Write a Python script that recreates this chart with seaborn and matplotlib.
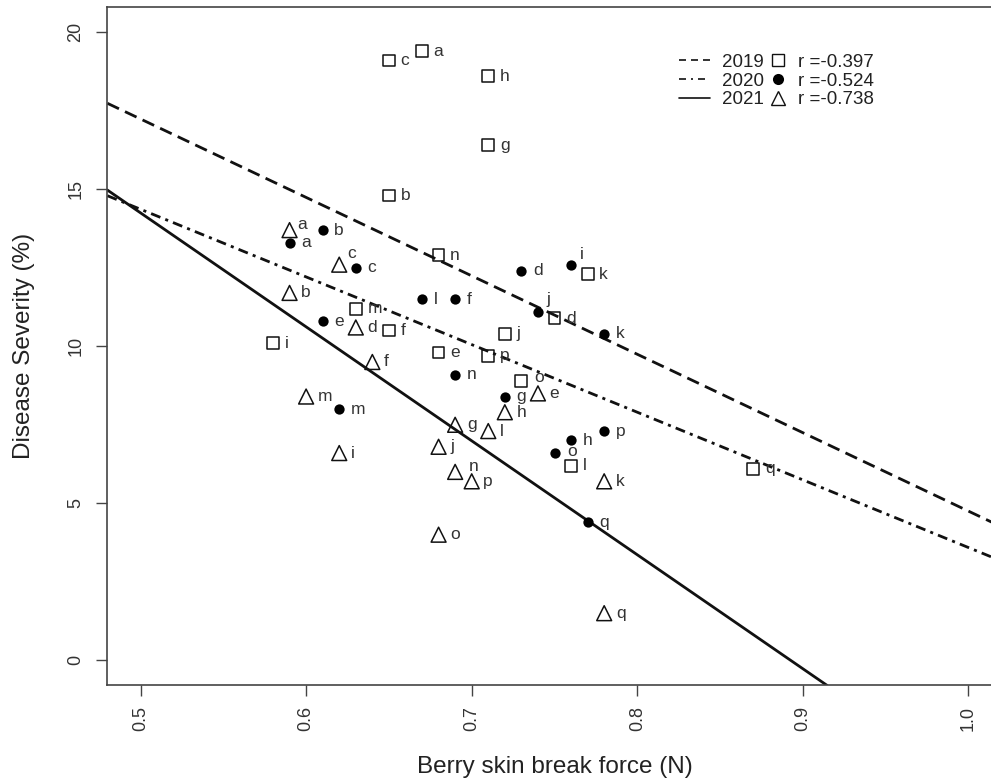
import pandas as pd
import seaborn as sns
import matplotlib.pyplot as plt
from matplotlib.lines import Line2D

sns.set_style("ticks")
plt.rcParams['font.family'] = ['Liberation Sans', 'DejaVu Sans']

# values
years = ['2019', '2020', '2021']
point_labels = list('abcdefghijklmnopq')

force_2019 = [0.67, 0.65, 0.65, 0.75, 0.68, 0.65, 0.71, 0.71, 0.58,
              0.72, 0.77, 0.76, 0.63, 0.68, 0.73, 0.71, 0.87]
severity_2019 = [19.4, 14.8, 19.1, 10.9, 9.8, 10.5, 16.4, 18.6, 10.1,
                 10.4, 12.3, 6.2, 11.2, 12.9, 8.9, 9.7, 6.1]

force_2020 = [0.59, 0.61, 0.63, 0.73, 0.61, 0.69, 0.72, 0.76, 0.76,
              0.74, 0.78, 0.67, 0.62, 0.69, 0.75, 0.78, 0.77]
severity_2020 = [13.3, 13.7, 12.5, 12.4, 10.8, 11.5, 8.4, 7.0, 12.6,
                 11.1, 10.4, 11.5, 8.0, 9.1, 6.6, 7.3, 4.4]

force_2021 = [0.59, 0.59, 0.62, 0.63, 0.74, 0.64, 0.69, 0.72, 0.62,
              0.68, 0.78, 0.71, 0.60, 0.69, 0.68, 0.70, 0.78]
severity_2021 = [13.7, 11.7, 12.6, 10.6, 8.5, 9.5, 7.5, 7.9, 6.6,
                 6.8, 5.7, 7.3, 8.4, 6.0, 4.0, 5.7, 1.5]

r_values = [-0.397, -0.524, -0.738]
fit_intercept = [29.73, 25.14, 32.4]
fit_slope = [-24.98, -21.55, -36.3]

rows = []
for yr, xs, ys in zip(years, [force_2019, force_2020, force_2021],
                      [severity_2019, severity_2020, severity_2021]):
    for lab, xv, yv in zip(point_labels, xs, ys):
        rows.append({'year': yr, 'label': lab, 'force': xv, 'severity': yv})
df = pd.DataFrame(rows)

W, H = 991, 782
fig = plt.figure(figsize=(W / 100, H / 100), dpi=100)
ax = fig.add_axes([107.4 / W, 1 - 685.4 / H, (1001.6 - 107.4) / W, (685.4 - 7.2) / H])
ax.set_xlim(0.48, 1.02)
ax.set_ylim(-0.8, 20.8)

line_styles = [(0, (4.6, 2.4)), (0, (3.6, 1.9, 1.1, 1.9)), '-']
for b, m, ls in zip(fit_intercept, fit_slope, line_styles):
    ax.axline((0, b), slope=m, color='#111111', lw=2.0, ls=ls, zorder=2)

marker_kw = {
    '2019': dict(marker='s', s=72, facecolor='none', edgecolor='#111111', linewidth=1.1),
    '2020': dict(marker='o', s=55, color='#000000', linewidth=0),
    '2021': dict(marker='^', s=115, facecolor='none', edgecolor='#111111', linewidth=1.1),
}
for yr in years:
    sns.scatterplot(data=df[df.year == yr], x='force', y='severity', ax=ax,
                    legend=False, zorder=3, **marker_kw[yr])

# a few letters sit up and to the right of their marker (pixels)
nudges = {('2021', 'a'): (7.7, -5.7), ('2021', 'c'): (8, -11),
          ('2020', 'i'): (9, -10), ('2020', 'j'): (8.3, -12.3),
          ('2021', 'n'): (13.3, -5), ('2019', 'o'): (13.3, -3),
          ('2020', 'o'): (12.3, -2)}
for _, row in df.iterrows():
    dx, dy = nudges.get((row.year, row.label), (11.7, 0))
    ax.annotate(row.label, (row.force, row.severity),
                xytext=(dx * 0.72, -dy * 0.72), textcoords='offset points',
                ha='left', va='center', fontsize=12.5, color='#333333', zorder=4)

ax.set_xticks([0.5, 0.6, 0.7, 0.8, 0.9, 1.0])
ax.set_yticks([0, 5, 10, 15, 20])
ax.tick_params(axis='both', direction='out', length=7.6, width=1.0,
               colors='#444444', labelcolor='#333333', labelsize=13)
ax.tick_params(axis='x', labelrotation=90, pad=7)
ax.tick_params(axis='y', labelrotation=90, pad=9)
plt.setp(ax.get_yticklabels(), va='center')

for side in ['left', 'top', 'bottom']:
    ax.spines[side].set_color('#444444')
    ax.spines[side].set_linewidth(1.2)
ax.spines['right'].set_visible(False)

ax.set_xlabel('Berry skin break force (N)', fontsize=17.5, labelpad=18, color='#222222')
ax.set_ylabel('Disease Severity (%)', fontsize=17.5, labelpad=23, color='#222222')

# legend: line sample + year, then marker + r
sample_styles = [(0, (4.2, 3)), (0, (4.2, 3, 1.2, 3)), '-']
line_handles = [Line2D([], [], color='#111111', lw=1.2, ls=ls) for ls in sample_styles]
leg1 = ax.legend(handles=line_handles, labels=years, loc='upper left',
                 bbox_to_anchor=(679 / W, 1 - 53.7 / H), bbox_transform=fig.transFigure,
                 frameon=False, fontsize=13.5, handlelength=1.65, handletextpad=0.64,
                 labelspacing=0.09, borderpad=0, borderaxespad=0)
for t in leg1.get_texts():
    t.set_color('#222222')
ax.add_artist(leg1)

mark_handles = [
    Line2D([], [], ls='none', marker='s', ms=8.6, mfc='none', mec='#111111', mew=1.0),
    Line2D([], [], ls='none', marker='o', ms=8.0, mfc='#000000', mec='#000000', mew=0),
    Line2D([], [], ls='none', marker='^', ms=10.6, mfc='none', mec='#111111', mew=1.0),
]
leg2 = ax.legend(handles=mark_handles, labels=[f'r ={v:.3f}' for v in r_values],
                 loc='upper left', bbox_to_anchor=(768.6 / W, 1 - 53.7 / H),
                 bbox_transform=fig.transFigure, frameon=False, fontsize=13.5,
                 handlelength=1.0, handletextpad=0.57, labelspacing=0.09,
                 borderpad=0, borderaxespad=0)
for t in leg2.get_texts():
    t.set_color('#222222')

fig.savefig('out.png', dpi=100)
